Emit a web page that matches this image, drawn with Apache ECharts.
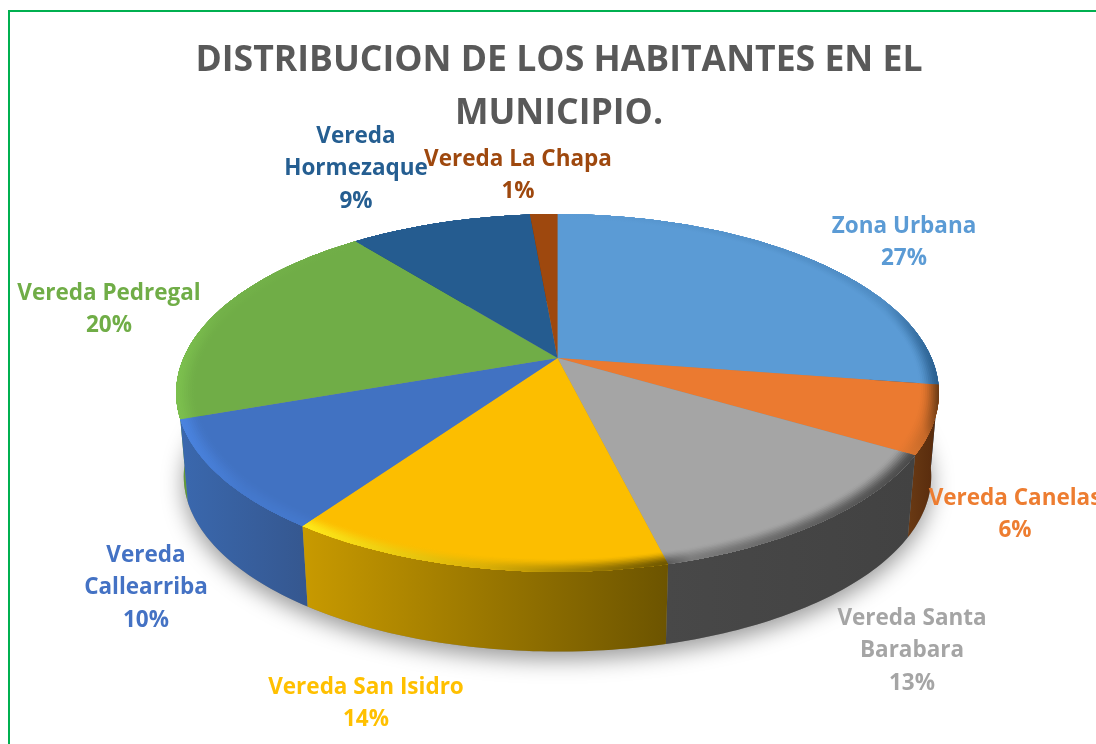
<!DOCTYPE html>
<html><head><meta charset="utf-8">
<style>html,body{margin:0;padding:0;background:#fff}#c{width:1096px;height:744px}</style>
<script src="https://cdn.jsdelivr.net/npm/echarts@6/dist/echarts.min.js"></script>
</head><body><div id="c"></div>
<script>
const titleText = 'DISTRIBUCION DE LOS HABITANTES EN EL\nMUNICIPIO.';
const categories = ['Zona Urbana','Vereda Canelas','Vereda Santa\nBarabara','Vereda San Isidro','Vereda\nCallearriba','Vereda Pedregal','Vereda\nHormezaque','Vereda La Chapa'];
const values = [27.4,6.1,12.65,13.55,9.9,19.7,9.3,1.4];
const topColors = ['#5B9BD5','#EB7A30','#A5A5A5','#FCBE00','#4172C2','#70AD47','#255C90','#9E480E'];
const labelColors = ['#5B9BD5','#ED7D31','#A5A5A5','#FFC000','#4472C4','#70AD47','#255E91','#9E480E'];
// wall shading left -> right
const wallLeft  = ['#2f6496','#6a3a14','#484848','#c89a00','#3a68ae','#5f9a3a','#1d4a72','#6e320a'];
const wallRight = ['#27547e','#55290c','#424242','#6c5400','#35578f','#5f9a3a','#1d4a72','#6e320a'];
// rim (bevel) tone at outer edge, left -> right; mid stop where it starts
const rimLeft  = ['#5B9BD5','#D8742E','#5a5a5a','#FFE91A','#4a84e0','#7cc04e','#255C90','#9E480E'];
const rimRight = ['#2a5f8f','#6a3a14','#4a4a4a','#6e5600','#4478cc','#70AD47','#255C90','#9E480E'];
const rimMid   = [0.86,0.5,0.1,0.5,0.5,0.25,0.5,0.5];
// label anchor layout (centre x, first line y)
const labelPos = [[904,226],[1015,498],[912,618],[366,687],[146,555],[109,293],[356,136],[518,159]];

const cx=557.5, cy=358, R=374, S=172, K=0.1955, cy2=442, shrink=0.98;
const sum = values.reduce((a,b)=>a+b,0);
function pt(theta,r,lower){
  const X=Math.sin(theta)*r, Y=Math.cos(theta)*r, w=1/(1+K*Y);
  let x=R*X*w, y=-S*Y*w;
  return lower ? [cx+shrink*x, cy2+shrink*y] : [cx+x, cy+y];
}
function arc(a,b,r,lower){
  const n=Math.max(2,Math.ceil((b-a)/(Math.PI/180))), out=[];
  for(let i=0;i<=n;i++) out.push(pt(a+(b-a)*i/n,r,lower));
  return out;
}
function hex(c){return [1,3,5].map(i=>parseInt(c.substr(i,2),16));}
function mix(a,b,t){const A=hex(a),B=hex(b);return 'rgb('+A.map((v,i)=>Math.round(v+(B[i]-v)*t)).join(',')+')';}
function mix2(a,b){const A=hex(a),B=hex(b);return '#'+A.map((v,i)=>Math.round((v+B[i])/2).toString(16).padStart(2,'0')).join('');}
function lin(stops){return {type:'linear',x:0,y:0,x2:1,y2:0,colorStops:stops};}
const angles=[]; let acc=0;
values.forEach(v=>{angles.push([acc/sum*2*Math.PI,(acc+v)/sum*2*Math.PI]);acc+=v;});

function renderSlice(params){
  const i=params.dataIndex, a=angles[i][0], b=angles[i][1], mid=(a+b)/2;
  const kids=[];
  const wallPts=arc(a,b,1,false).concat(arc(a,b,1,true).reverse());
  kids.push({type:'polygon',shape:{points:wallPts},z2:10-Math.cos(mid)*5,
    style:{fill:lin([{offset:0,color:wallLeft[i]},{offset:1,color:wallRight[i]}])}});
  const topPts=[[cx,cy]].concat(arc(a,b,1,false));
  kids.push({type:'polygon',shape:{points:topPts},z2:50,style:{fill:topColors[i]}});
  const N=10, inner=0.95;
  for(let k=0;k<N;k++){
    const r0=inner+(1-inner)*k/N, t=(k+1)/N, e=t*t*(3-2*t);
    const pts=arc(a,b,1,false).concat(arc(a,b,r0,false).reverse());
    kids.push({type:'polygon',shape:{points:pts},z2:60+k,style:{
      fill:lin([{offset:0,color:mix(topColors[i],rimLeft[i],e)},
                {offset:rimMid[i],color:mix(topColors[i],mix2(rimLeft[i],rimRight[i]),e*0.5)},
                {offset:1,color:mix(topColors[i],rimRight[i],e)}])}});
  }
  const pct=Math.round(values[i]/sum*100)+'%';
  kids.push({type:'text',z2:200,x:labelPos[i][0],y:labelPos[i][1]-16,style:{
    text:categories[i]+'\n'+pct,fill:labelColors[i],align:'center',verticalAlign:'top',
    font:'700 22.5px "Open Sans"',lineHeight:32.5}});
  return {type:'group',children:kids};
}
function renderShadow(){
  return {type:'polygon',z2:1,shape:{points:arc(0,2*Math.PI,1,true)},
    style:{fill:'#8a8a8a',shadowColor:'rgba(0,0,0,0.4)',shadowBlur:22,shadowOffsetY:8,shadowOffsetX:0}};
}
const chart=echarts.init(document.getElementById('c'),null,{renderer:'canvas'});
chart.setOption({
  animation:false,backgroundColor:'#fff',
  title:{text:titleText,left:554,textAlign:'center',top:29,
    textStyle:{fontFamily:'Open Sans',fontWeight:700,fontSize:35.6,color:'#595959',lineHeight:53}},
  graphic:[{type:'polyline',silent:true,shape:{points:[[9,744],[9,11],[1096,11]]},style:{stroke:'#00B050',lineWidth:2,fill:null}}],
  series:[
    {type:'custom',coordinateSystem:'none',silent:true,data:[0],renderItem:renderShadow,z:1},
    {type:'custom',coordinateSystem:'none',silent:true,data:values,renderItem:renderSlice,z:2,clip:false}
  ]
});
</script></body></html>
